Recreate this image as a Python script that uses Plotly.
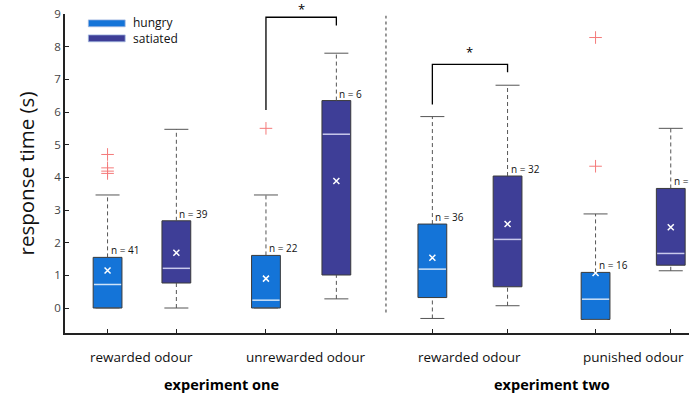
import plotly.graph_objects as go

# ---- data: response times (s), box statistics per condition ----
conditions = ["rewarded odour", "unrewarded odour", "rewarded odour", "punished odour"]
experiments = ["experiment one", "experiment two"]

hungry_q1 = [0.0, 0.0, 0.32, -0.35]
hungry_median = [0.72, 0.24, 1.19, 0.27]
hungry_q3 = [1.55, 1.61, 2.57, 1.09]
hungry_low = [0.0, 0.0, -0.32, -0.35]
hungry_high = [3.46, 3.46, 5.86, 2.88]
hungry_mean = [1.15, 0.90, 1.54, 1.07]
hungry_n = [41, 22, 36, 16]
hungry_outliers = [[4.70, 4.29, 4.19, 4.12], [5.50], [], [8.28, 4.34]]

satiated_q1 = [0.765, 1.01, 0.65, 1.31]
satiated_median = [1.215, 5.32, 2.10, 1.67]
satiated_q3 = [2.67, 6.35, 4.04, 3.66]
satiated_low = [0.0, 0.28, 0.07, 1.14]
satiated_high = [5.47, 7.80, 6.82, 5.50]
satiated_mean = [1.69, 3.89, 2.57, 2.47]
satiated_n = [39, 6, 32, 18]
satiated_outliers = [[], [], [], []]

# significance brackets: (condition index, top, left foot, right foot)
sig_condition = [1, 2]
sig_top = [8.90, 7.46]
sig_left_foot = [6.06, 6.23]
sig_right_foot = [8.65, 7.22]
sig_star_y = [9.15, 7.83]

# ---- layout constants ----
hungry_x = [1.0, 1.99, 3.03, 4.05]
satiated_x = [1.43, 2.43, 3.50, 4.52]
Y_MIN, Y_MAX = -0.765, 9.0
box_w = 0.18
cap_w = 0.15
HUNGRY = "#1474D8"
SATIATED = "#3E3E97"
EDGE = "#3a3a3a"
WHISKER = "#555555"
FONT = "Open Sans"

fig = go.Figure()


def add_group(xs, q1, med, q3, low, high, mean, outl, n, color, med_color):
    # box bodies
    fig.add_trace(go.Bar(
        x=xs, base=q1, y=[b - a for a, b in zip(q1, q3)], width=box_w,
        marker=dict(color=color, line=dict(color=EDGE, width=1)),
        showlegend=False, hoverinfo="skip"))
    # dashed whiskers, solid caps, medians
    wx, wy, cx, cy, mx, my = [], [], [], [], [], []
    for x, a, b, lo, hi, m in zip(xs, q1, q3, low, high, med):
        wx += [x, x, None, x, x, None]
        wy += [b, hi, None, lo, a, None]
        cx += [x - cap_w / 2, x + cap_w / 2, None, x - cap_w / 2, x + cap_w / 2, None]
        cy += [hi, hi, None, lo, lo, None]
        mx += [x - box_w / 2 + 0.005, x + box_w / 2 - 0.005, None]
        my += [m, m, None]
    fig.add_trace(go.Scatter(x=wx, y=wy, mode="lines",
                             line=dict(color=WHISKER, width=1, dash="4px,3px"),
                             showlegend=False, hoverinfo="skip"))
    fig.add_trace(go.Scatter(x=cx, y=cy, mode="lines",
                             line=dict(color=WHISKER, width=1),
                             showlegend=False, hoverinfo="skip"))
    fig.add_trace(go.Scatter(x=mx, y=my, mode="lines",
                             line=dict(color=med_color, width=1.5),
                             showlegend=False, hoverinfo="skip"))
    # means
    fig.add_trace(go.Scatter(x=xs, y=mean, mode="markers",
                             marker=dict(symbol="x-thin-open", size=6, color="white",
                                         line=dict(color="white", width=1.5)),
                             showlegend=False, hoverinfo="skip"))
    # outliers
    ox, oy = [], []
    for x, vals in zip(xs, outl):
        ox += [x] * len(vals)
        oy += vals
    if ox:
        fig.add_trace(go.Scatter(x=ox, y=oy, mode="markers",
                                 marker=dict(symbol="cross-thin-open", size=9, color="#F47A7A",
                                             line=dict(color="#F47A7A", width=1)),
                                 showlegend=False, hoverinfo="skip"))
    # sample sizes
    for x, top, k in zip(xs, q3, n):
        fig.add_annotation(x=x, y=top, text=f"n = {k}", showarrow=False,
                           xanchor="left", yanchor="bottom", xshift=1, yshift=-2,
                           font=dict(size=10, color="#111111", family=FONT))


add_group(hungry_x, hungry_q1, hungry_median, hungry_q3, hungry_low, hungry_high,
          hungry_mean, hungry_outliers, hungry_n, HUNGRY, "#CFE3F8")
add_group(satiated_x, satiated_q1, satiated_median, satiated_q3, satiated_low,
          satiated_high, satiated_mean, satiated_outliers, satiated_n, SATIATED, "#C9C9EC")

# significance brackets
for i, top, lf, rf, sy in zip(sig_condition, sig_top, sig_left_foot, sig_right_foot, sig_star_y):
    xl, xr = hungry_x[i], satiated_x[i]
    fig.add_trace(go.Scatter(x=[xl, xl, xr, xr], y=[lf, top, top, rf], mode="lines",
                             line=dict(color="black", width=1.3), cliponaxis=False,
                             showlegend=False, hoverinfo="skip"))
    # star placed in paper units so it may sit above the axis range
    fig.add_annotation(x=(xl + xr) / 2, y=(sy - Y_MIN) / (Y_MAX - Y_MIN), yref="paper",
                       text="*", showarrow=False,
                       font=dict(size=13, color="black", family=FONT), yanchor="middle")

# separator between the two experiments
sep_x = (satiated_x[1] + hungry_x[2]) / 2 + 0.01
fig.add_shape(type="line", x0=sep_x, x1=sep_x, y0=-0.14, y1=8.95,
              line=dict(color="#777777", width=1.5, dash="dot"))

# condition and experiment labels
for i, name in enumerate(conditions):
    cx = (hungry_x[i] + satiated_x[i]) / 2
    fig.add_annotation(x=cx, y=-0.075, yref="paper", text=name, showarrow=False,
                       xshift=5 if i == 1 else 0,
                       font=dict(size=13.5, color="#111111", family=FONT), yanchor="middle")
exp_x = [(hungry_x[0] + satiated_x[1]) / 2, (hungry_x[2] + satiated_x[3]) / 2]
for x, name in zip(exp_x, experiments):
    fig.add_annotation(x=x, y=-0.16, yref="paper", text=f"<b>{name}</b>", showarrow=False,
                       font=dict(size=14.5, color="black", family=FONT), yanchor="middle")

# legend: colour patches with a two-line label block
legend_labels = ["hungry", "satiated"]
legend_colors = [HUNGRY, SATIATED]
for k, col in enumerate(legend_colors):
    y0 = 8.82 - k * 0.46
    fig.add_shape(type="rect", x0=0.88, x1=1.11, y0=y0 - 0.21, y1=y0,
                  fillcolor=col, line=dict(color="#9fb6e0", width=0.8))
fig.add_annotation(x=1.145, y=8.82 - 0.08 - 0.23, text="<br>".join(legend_labels),
                   showarrow=False, xanchor="left", yanchor="middle", align="left",
                   font=dict(size=12, color="#111111", family=FONT))

fig.update_layout(
    width=689, height=394,
    margin=dict(l=65, r=0, t=14, b=61),
    paper_bgcolor="white", plot_bgcolor="white",
    barmode="overlay",
    showlegend=False,
    font=dict(family=FONT),
    xaxis=dict(range=[0.734, 4.634], tickvals=hungry_x + satiated_x,
               ticktext=[""] * 8, ticks="inside", ticklen=4, tickcolor="#222222",
               showgrid=False, zeroline=False, showline=True, linecolor="#222222",
               linewidth=1.5),
    yaxis=dict(range=[Y_MIN, Y_MAX], tickvals=list(range(0, 10)), ticks="inside",
               ticklen=4, tickcolor="#222222", showgrid=False, zeroline=False,
               showline=True, linecolor="#222222", linewidth=1.5,
               tickfont=dict(size=11.5, color="#444444", family=FONT),
               title=dict(text="response time (s)", standoff=14,
                          font=dict(size=20.5, color="#111111", family=FONT))),
)

fig.write_html("out.html")
